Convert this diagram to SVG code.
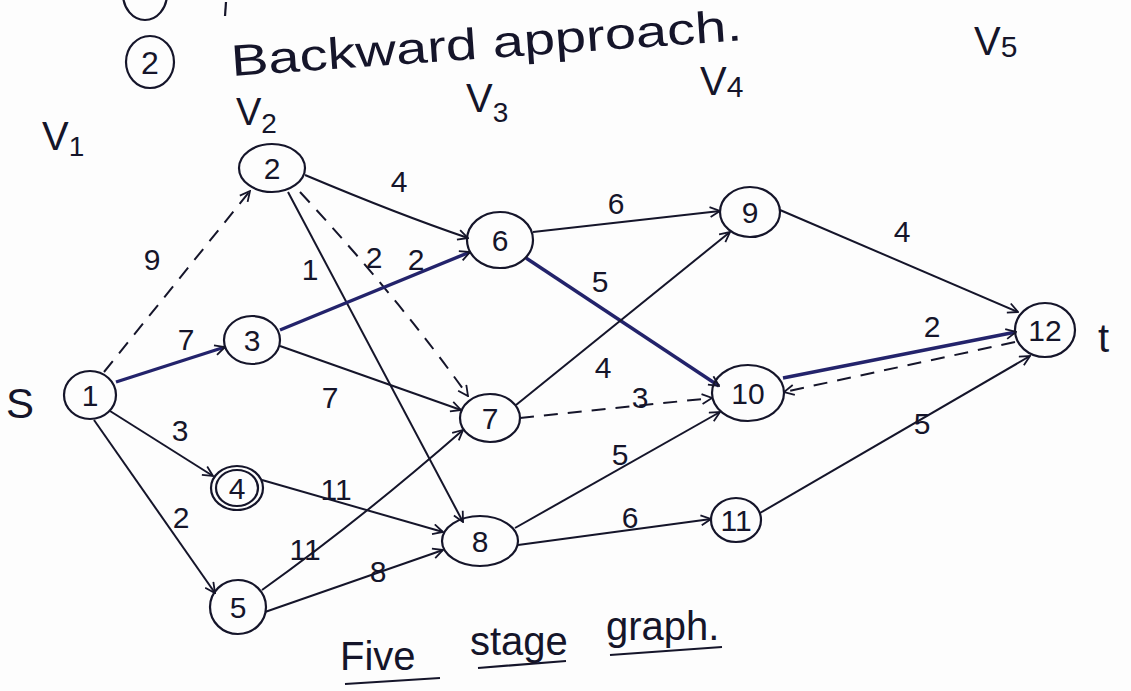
<svg xmlns="http://www.w3.org/2000/svg" width="1131" height="691" viewBox="0 0 1131 691">
<style>
.bg{fill:#fdfdfd}
.node ellipse{fill:none;stroke:#15152a;stroke-width:2.2}
.node text{font-family:"Liberation Sans",Arial,sans-serif;font-size:30px;fill:#15152a;text-anchor:middle;dominant-baseline:central}
.e{fill:none;stroke:#15152a;stroke-width:2;marker-end:url(#ah)}
.dash{stroke-dasharray:14 10}
.thick{stroke:#23236b;stroke-width:3.4}
.lbl{font-family:"Liberation Sans",Arial,sans-serif;font-size:30px;fill:#15152a;text-anchor:middle}
.hand{font-family:"Liberation Sans",Arial,sans-serif;fill:#15152a}
.ul{fill:none;stroke:#15152a;stroke-width:2.2}
</style>
<defs>
<marker id="ah" viewBox="0 0 12 12" refX="11" refY="6" markerWidth="12" markerHeight="12" markerUnits="userSpaceOnUse" orient="auto">
<path d="M1,1 L11,6 L1,11" fill="none" stroke="#15152a" stroke-width="1.8"/>
</marker>
</defs>
<rect class="bg" x="0" y="0" width="1131" height="691"/>

<g id="header">
<ellipse cx="145" cy="-6" rx="22" ry="26" class="ul"/>
<line x1="226" y1="2" x2="225" y2="16" class="ul"/>
<ellipse cx="150" cy="62" rx="24" ry="26" class="ul"/>
<text x="150" y="74" class="hand" font-size="32" text-anchor="middle">2</text>
<text x="232" y="76" class="hand" font-size="44" textLength="512" lengthAdjust="spacingAndGlyphs" transform="rotate(-4 232 76)">Backward approach.</text>
</g>

<g id="stage-labels" class="hand">
<text x="42" y="150" font-size="40">V<tspan font-size="28" dy="6">1</tspan></text>
<text x="236" y="125" font-size="38">V<tspan font-size="28" dy="8">2</tspan></text>
<text x="466" y="112" font-size="40">V<tspan font-size="28" dy="10">3</tspan></text>
<text x="700" y="95" font-size="40">V<tspan font-size="30" dy="2">4</tspan></text>
<text x="974" y="55" font-size="40">V<tspan font-size="30" dy="2">5</tspan></text>
<text x="6" y="418" font-size="42">S</text>
<text x="1098" y="352" font-size="40">t</text>
</g>

<g id="connectors">
<path class="e dash" d="M104,372 L250,191"/>
<path class="e thick" d="M116,382 L225,347"/>
<path class="e" d="M110,411 L213,476"/>
<path class="e" d="M94,420 Q150,500 215,593"/>
<path class="e" d="M305,175 Q400,215 468,238"/>
<path class="e dash" d="M300,192 Q400,300 468,396"/>
<path class="e" d="M288,192 L463,522"/>
<path class="e thick" d="M280,330 L470,252"/>
<path class="e" d="M280,346 L461,410"/>
<path class="e" d="M262,480 L443,532"/>
<path class="e" d="M262,590 Q360,520 463,430"/>
<path class="e" d="M265,612 L443,550"/>
<path class="e" d="M533,232 L720,211"/>
<path class="e thick" d="M526,258 L719,386"/>
<path class="e" d="M516,405 L730,232"/>
<path class="e dash" d="M520,418 L712,398"/>
<path class="e" d="M515,528 L720,412"/>
<path class="e" d="M518,545 L711,519"/>
<path class="e" d="M780,210 L1018,312"/>
<path class="e thick" d="M783,378 L1016,332"/>
<path class="e dash" d="M1015,342 L784,392"/>
<path class="e" d="M760,513 L1030,356"/>
</g>

<g id="edge-labels" class="lbl">
<text x="152" y="270">9</text>
<text x="186" y="350">7</text>
<text x="180" y="441">3</text>
<text x="181" y="528">2</text>
<text x="399" y="192">4</text>
<text x="310" y="280">1</text>
<text x="374" y="268">2</text>
<text x="416" y="270">2</text>
<text x="330" y="408">7</text>
<text x="336" y="500">11</text>
<text x="305" y="560">11</text>
<text x="378" y="582">8</text>
<text x="616" y="214">6</text>
<text x="600" y="292">5</text>
<text x="603" y="378">4</text>
<text x="640" y="408">3</text>
<text x="620" y="465">5</text>
<text x="630" y="528">6</text>
<text x="902" y="242">4</text>
<text x="932" y="337">2</text>
<text x="922" y="434">5</text>
</g>

<g id="n1" class="node"><ellipse cx="90" cy="395" rx="26" ry="24"/><text x="90" y="395">1</text></g>
<g id="n2" class="node"><ellipse cx="272" cy="168" rx="33" ry="24"/><text x="272" y="168">2</text></g>
<g id="n3" class="node"><ellipse cx="252" cy="340" rx="28" ry="24"/><text x="252" y="340">3</text></g>
<g id="n4" class="node"><ellipse cx="237" cy="488" rx="26" ry="22"/><ellipse cx="237" cy="488" rx="21" ry="18"/><text x="237" y="488">4</text></g>
<g id="n5" class="node"><ellipse cx="238" cy="607" rx="28" ry="27"/><text x="238" y="607">5</text></g>
<g id="n6" class="node"><ellipse cx="500" cy="240" rx="33" ry="28"/><text x="500" y="240">6</text></g>
<g id="n7" class="node"><ellipse cx="490" cy="418" rx="30" ry="24"/><text x="490" y="418">7</text></g>
<g id="n8" class="node"><ellipse cx="480" cy="541" rx="38" ry="25"/><text x="480" y="541">8</text></g>
<g id="n9" class="node"><ellipse cx="750" cy="212" rx="30" ry="25"/><text x="750" y="212">9</text></g>
<g id="n10" class="node"><ellipse cx="748" cy="393" rx="36" ry="28"/><text x="748" y="393">10</text></g>
<g id="n11" class="node"><ellipse cx="736" cy="520" rx="25" ry="22"/><text x="736" y="520">11</text></g>
<g id="n12" class="node"><ellipse cx="1045" cy="330" rx="30" ry="27"/><text x="1045" y="330">12</text></g>

<g id="caption" class="hand">
<text x="340" y="670" font-size="40">Five</text>
<text x="470" y="655" font-size="40">stage</text>
<text x="606" y="640" font-size="40">graph.</text>
<path class="ul" d="M345,684 L440,678 M478,668 L566,661 M610,655 L722,647"/>
</g>
</svg>
